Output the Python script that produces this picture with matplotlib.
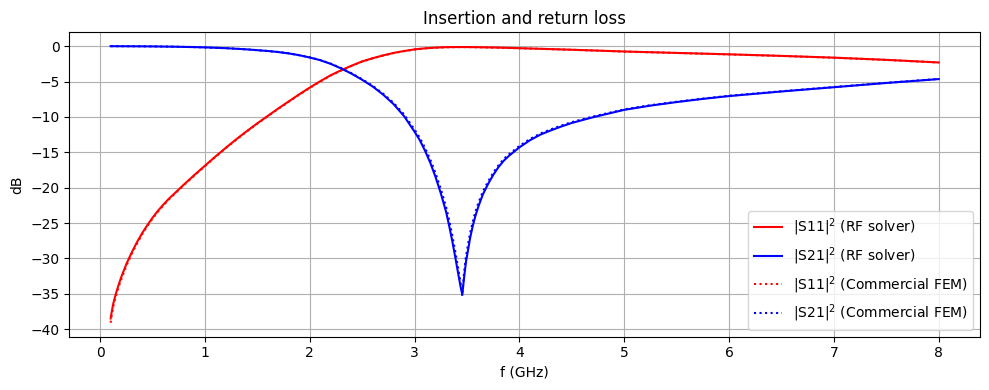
import numpy as np
import matplotlib
matplotlib.use("Agg")
import matplotlib.pyplot as plt

# |S11|^2 , frequency in GHz, values in dB
f_s11 = [0.1, 0.11, 0.125, 0.15, 0.175, 0.2, 0.25, 0.3, 0.35, 0.4, 0.45,
         0.5, 0.55, 0.6, 0.65, 0.7, 0.8, 0.9, 1.0, 1.1, 1.2, 1.3, 1.4, 1.5,
         1.6, 1.7, 1.8, 1.9, 2.0, 2.1, 2.2, 2.3, 2.4, 2.5, 2.6, 2.7, 2.8,
         2.9, 3.0, 3.1, 3.2, 3.3, 3.4, 3.5, 3.6, 3.8, 4.0, 4.5, 5.0, 5.5,
         6.0, 6.5, 7.0, 7.5, 8.0]
s11_rf = [-38.5, -37.6, -36.4, -35.0, -33.8, -32.7, -30.8, -29.2, -27.75,
          -26.45, -25.3, -24.25, -23.3, -22.45, -21.65, -20.95, -19.55, -18.2,
          -16.9, -15.6, -14.35, -13.15, -12.0, -10.9, -9.85, -8.8, -7.8, -6.8,
          -5.85, -4.95, -4.1, -3.4, -2.75, -2.15, -1.7, -1.3, -0.95, -0.68,
          -0.45, -0.3, -0.2, -0.14, -0.12, -0.12, -0.14, -0.2, -0.28, -0.5,
          -0.75, -0.95, -1.15, -1.37, -1.62, -1.93, -2.3]
s11_fem = [-39.1, -38.1, -36.8, -35.35, -34.1, -33.0, -31.05, -29.4, -27.95,
           -26.62, -25.45, -24.38, -23.42, -22.56, -21.75, -21.03, -19.63, -18.27,
           -16.95, -15.65, -14.4, -13.2, -12.05, -10.95, -9.9, -8.85, -7.85, -6.85,
           -5.9, -5.0, -4.15, -3.43, -2.78, -2.18, -1.72, -1.32, -0.97, -0.7,
           -0.47, -0.31, -0.21, -0.15, -0.13, -0.13, -0.15, -0.21, -0.29, -0.51,
           -0.76, -0.96, -1.16, -1.38, -1.63, -1.94, -2.31]

# |S21|^2
f_s21 = [0.1, 0.3, 0.5, 0.7, 0.9, 1.0, 1.2, 1.4, 1.6, 1.7, 1.8, 1.9, 2.0,
         2.1, 2.2, 2.3, 2.4, 2.5, 2.6, 2.7, 2.8, 2.9, 3.0, 3.05, 3.1, 3.15,
         3.2, 3.25, 3.3, 3.33, 3.36, 3.39, 3.42, 3.44, 3.455, 3.47, 3.49,
         3.51, 3.53, 3.555, 3.58, 3.61, 3.65, 3.7, 3.75, 3.8, 3.85, 3.9, 4.0,
         4.1, 4.2, 4.3, 4.4, 4.5, 4.6, 4.7, 4.8, 4.9, 5.0, 5.25, 5.5, 5.75,
         6.0, 6.5, 7.0, 7.5, 8.0]
s21_rf = [0.0, -0.01, -0.03, -0.07, -0.13, -0.17, -0.28, -0.45, -0.68,
          -0.83, -1.02, -1.28, -1.6, -1.98, -2.5, -3.15, -3.9, -4.75, -5.7,
          -6.85, -8.2, -9.9, -12.1, -13.3, -14.8, -16.5, -18.5, -20.8, -23.4,
          -25.4, -27.6, -30.0, -32.5, -34.1, -35.1, -33.0, -30.5, -28.8,
          -27.1, -25.4, -24.0, -22.6, -21.0, -19.5, -18.2, -17.1, -16.2,
          -15.5, -14.3, -13.3, -12.5, -11.9, -11.35, -10.85, -10.45, -10.05,
          -9.7, -9.35, -9.0, -8.4, -7.9, -7.45, -7.05, -6.4, -5.8, -5.2, -4.65]
s21_fem = [0.0, -0.01, -0.03, -0.07, -0.13, -0.17, -0.28, -0.45, -0.68,
           -0.82, -1.01, -1.27, -1.58, -1.96, -2.47, -3.1, -3.84, -4.68, -5.6,
           -6.72, -8.02, -9.65, -11.8, -12.95, -14.4, -16.05, -17.95, -20.2,
           -22.7, -24.6, -26.8, -29.2, -31.8, -33.6, -35.3, -32.3, -29.7,
           -28.0, -26.4, -24.8, -23.4, -22.1, -20.6, -19.15, -17.9, -16.85,
           -15.95, -15.28, -14.1, -13.12, -12.34, -11.75, -11.22, -10.73,
           -10.34, -9.95, -9.61, -9.27, -8.93, -8.34, -7.85, -7.41, -7.01,
           -6.37, -5.77, -5.18, -4.63]

fig, ax = plt.subplots(figsize=(9.89, 3.9), dpi=100)
ax.plot(f_s11, s11_rf, color="red", label=r"$|$S11$|^2$ (RF solver)")
ax.plot(f_s21, s21_rf, color="blue", label=r"$|$S21$|^2$ (RF solver)")
ax.plot(f_s11, s11_fem, color="red", linestyle=":", label=r"$|$S11$|^2$ (Commercial FEM)")
ax.plot(f_s21, s21_fem, color="blue", linestyle=":", label=r"$|$S21$|^2$ (Commercial FEM)")
ax.set_xlabel("f (GHz)")
ax.set_ylabel("dB")
ax.set_title("Insertion and return loss")
ax.grid(True)
ax.legend(loc="lower right")
fig.subplots_adjust(left=0.070, right=0.991, top=0.917, bottom=0.137)
fig.savefig("out.png")
